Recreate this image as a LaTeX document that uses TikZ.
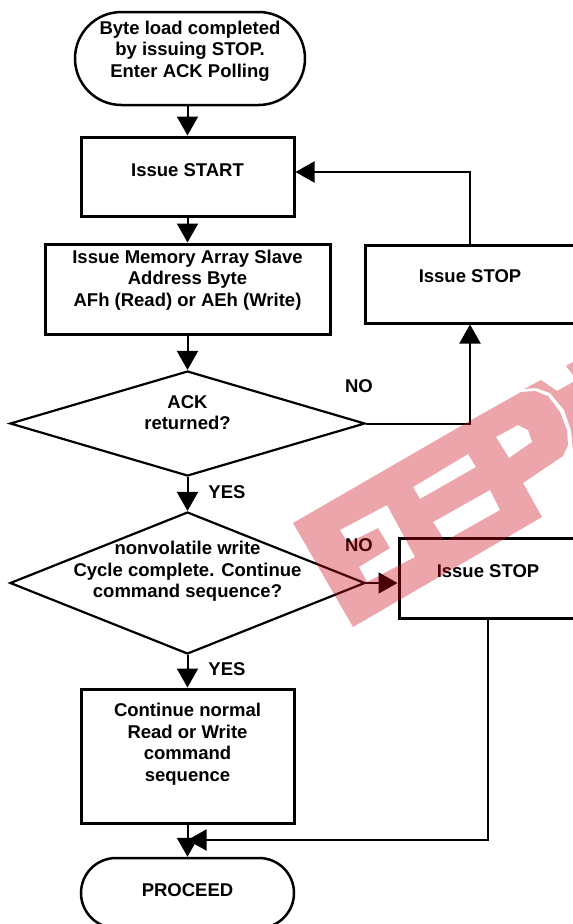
\documentclass[tikz,border=0pt]{standalone}
\usepackage{fontspec}
\setmainfont{Liberation Sans}
\usetikzlibrary{arrows.meta,shapes.geometric,shapes.misc}
\tikzset{
  lbl/.style={font=\fontsize{18.5}{21.5}\selectfont\bfseries,align=center,inner sep=0pt,text=black},
  flowbox/.style={draw=black,line width=3pt,rectangle,inner sep=0pt},
  pill/.style={draw=black,line width=2.5pt,rounded rectangle,inner sep=0pt},
  decision/.style={draw=black,line width=2.2pt,diamond,inner sep=0pt,minimum width=355pt,minimum height=#1,aspect=3},
  conn/.style={draw=black,line width=2pt,-{Triangle[width=21pt,length=19pt]}},
  stamp/.style={fill={rgb,255:red,205;green,8;blue,24},fill opacity=0.36,draw=none,even odd rule},
}
\begin{document}
\begin{tikzpicture}[x=1pt,y=-1pt]
\clip (0,0) rectangle (573,924);
\fill[white] (0,0) rectangle (573,924);
\node[pill,minimum width=230pt,minimum height=93pt,label={[lbl,yshift=7.5pt]center:{Byte load completed\\by issuing STOP.\\Enter ACK Polling}}] (start) at (190,58.5) {};
\node[flowbox,minimum width=213pt,minimum height=79pt,label={[lbl,yshift=6.5pt]center:{Issue START}}] (b1) at (187.5,176.5) {};
\node[flowbox,minimum width=285pt,minimum height=90pt,label={[lbl,yshift=9pt]center:{Issue Memory Array Slave\\Address Byte\\AFh (Read) or AEh (Write)}}] (b2) at (187.5,289) {};
\node[decision=105pt,label={[lbl,yshift=11pt]center:{ACK\\returned?}}] (d1) at (187.5,423.5) {};
\node[decision=142pt,label={[lbl,yshift=11.5pt]center:{nonvolatile write\\Cycle complete. Continue\\command sequence?}}] (d2) at (187.5,583) {};
\node[flowbox,minimum width=210pt,minimum height=78pt,label={[lbl,yshift=8pt]center:{Issue STOP}}] (s1) at (470,284) {};
\node[flowbox,minimum width=178pt,minimum height=80pt,label={[lbl,yshift=7pt]center:{Issue STOP}}] (s2) at (488,578) {};
\node[flowbox,minimum width=213pt,minimum height=134pt,label={[lbl,yshift=12pt]center:{Continue normal\\Read or Write\\command\\sequence}}] (c) at (187.5,756) {};
\node[pill,minimum width=213pt,minimum height=70pt,label={[lbl,yshift=3pt]center:{PROCEED}}] (p) at (187.5,893) {};
\coordinate (j) at (187.5,840);
\coordinate (b1in) at ([yshift=4.5pt]b1.east);
\node[lbl] (no1) at (359,386) {NO};
\node[lbl] (no2) at (359,545) {NO};
\node[lbl] (yes1) at (227,492) {YES};
\node[lbl] (yes2) at (227,669) {YES};
\draw[conn] (start.south -| b1.north) -- (b1.north);
\draw[conn] (b1.south) -- (b2.north);
\draw[conn] (b2.south) -- (d1.north);
\draw[conn] (d1.south) -- (d2.north);
\draw[conn] (d2.south) -- (c.north);
\draw[conn] (c.south) -- (p.north);
\draw[conn] (d1.east) -| (s1.south);
\draw[conn] (s1.north) |- (b1in);
\draw[conn] (d2.east) -- (d2.east -| s2.west);
\draw[conn] (s2.south) |- (j);
\path[stamp]
  (293,523) -- (473,419) -- (521,392) -- (535,391) -- (548,396) -- (560,412) -- (567,430) -- (568,445) -- (563,456) -- (523,483) -- (542,517) -- (353,627) -- cycle
  (340,530) -- (387,505) -- (415,557) -- (367,582) -- (359,567) -- (390,548) -- (378,528) -- (348,543) -- cycle
  (413,487) -- (468,454) -- (476,467) -- (420,499) -- cycle
  (433,522) -- (490,490) -- (500,510) -- (445,541) -- cycle
  (496,437) -- (518,425) -- (528,430) -- (532,442) -- (509,458) -- cycle;
\path[stamp]
  (524,389) -- (541,380) -- (557,391) -- (573,382) -- (573,450) -- (571,430) -- (564,410) -- (550,393) -- (536,388) -- cycle;
\path[stamp] (566,366) -- (573,362) -- (573,375) -- cycle;
\end{tikzpicture}
\end{document}
